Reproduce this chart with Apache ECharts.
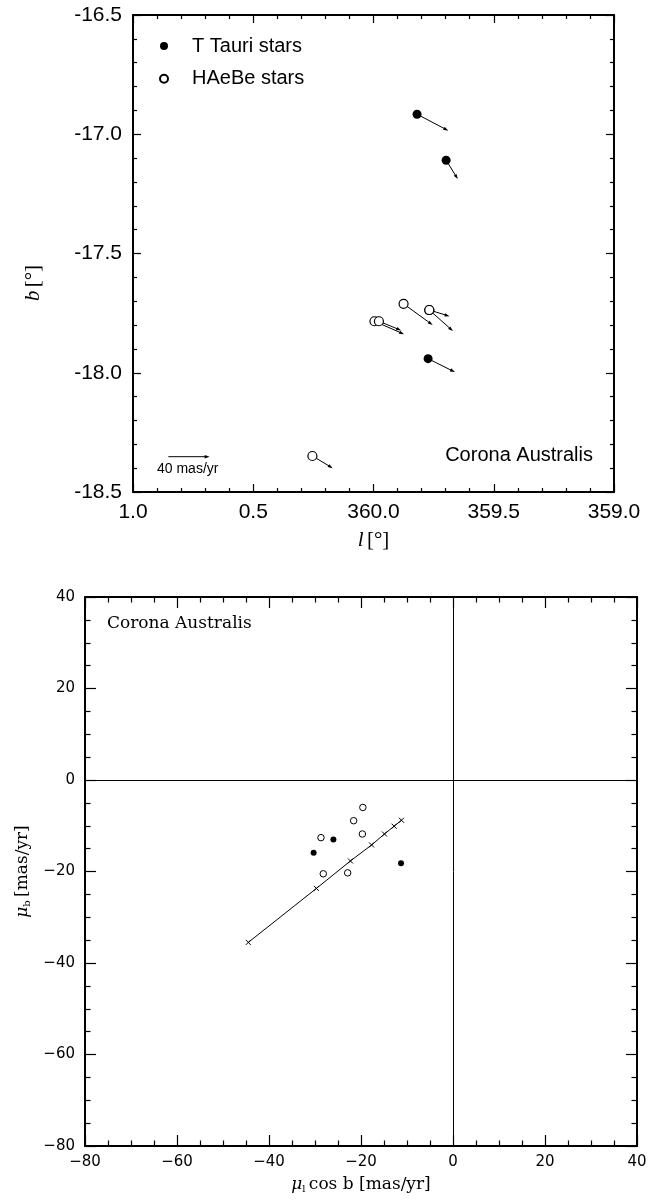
<!DOCTYPE html>
<html>
<head>
<meta charset="utf-8">
<script src="https://cdn.jsdelivr.net/npm/echarts@6/dist/echarts.min.js"></script>
<style>
html, body { margin: 0; padding: 0; background: #fff; }
#chart { width: 663px; height: 1201px; }
</style>
</head>
<body>
<div id="chart"></div>
<script>
// galactic positions; l kept as offset from 360 deg (359.8 -> -0.2)
var ttauriL = [-0.181, -0.302, -0.227];
var ttauriB = [-16.916, -17.109, -17.941];
var ttauriPmL = [-30.3, -11.3, -26.0];
var ttauriPmB = [-15.9, -18.2, -13.0];

var haebeL = [-0.125, -0.232, -0.232, -0.004, -0.0225, 0.254];
var haebeB = [-17.711, -17.737, -17.737, -17.784, -17.784, -18.349];
var haebePmL = [-28.2, -19.6, -22.9, -28.7, -21.6, -19.7];
var haebePmB = [-20.5, -6.0, -20.3, -12.6, -8.9, -11.8];

// crosses on the line in the proper motion diagram
var lineMuL = [-44.5, -29.7, -22.3, -17.7, -14.9, -12.8, -11.2];
var lineMuB = [-35.5, -23.7, -17.7, -14.2, -11.8, -10.1, -8.8];

// reference arrow (40 mas/yr)
var scaleArrow = [0.853, -18.352, -40, 0];

var lTickVals = [1, 0.5, 0, -0.5, -1];
var lTickLabels = ['1.0', '0.5', '360.0', '359.5', '359.0'];

var MAS_DEG = 0.1717 / 40;   // arrow length: deg of l per mas/yr

function zip(a, b) {
    return a.map(function (v, i) { return [v, b[i]]; });
}
function zip4(a, b, c, d) {
    return a.map(function (v, i) { return [v, b[i], c[i], d[i]]; });
}

function renderArrow(params, api) {
    var p = api.coord([api.value(0), api.value(1)]);
    var k = api.size([MAS_DEG, 0])[0];
    var dx = -api.value(2) * k, dy = -api.value(3) * k;
    var len = Math.sqrt(dx * dx + dy * dy);
    var ux = dx / len, uy = dy / len;
    var ex = p[0] + dx, ey = p[1] + dy;
    var h = 5, w = 1.7;
    return {
        type: 'group',
        children: [{
            type: 'line',
            shape: { x1: p[0], y1: p[1], x2: ex - ux * h * 0.6, y2: ey - uy * h * 0.6 },
            style: { stroke: '#000', lineWidth: 1 }
        }, {
            type: 'polygon',
            shape: { points: [[ex, ey], [ex - ux * h - uy * w, ey - uy * h + ux * w], [ex - ux * h + uy * w, ey - uy * h - ux * w]] },
            style: { fill: '#000' }
        }]
    };
}

function frame(o) {
    var ax = {
        type: 'value',
        gridIndex: o.grid,
        position: o.pos,
        min: o.min, max: o.max, interval: o.interval,
        inverse: !!o.inverse,
        axisLine: { show: true, onZero: false, lineStyle: { color: '#000', width: o.lw } },
        axisTick: { show: true, inside: true, length: o.tick, lineStyle: { color: '#000', width: 1.2 } },
        minorTick: { show: true, splitNumber: o.minor, length: o.tick / 2, lineStyle: { color: '#000', width: 1.2 } },
        splitLine: { show: false },
        axisLabel: { show: false }
    };
    if (o.label) {
        ax.axisLabel = {
            show: true, margin: o.margin, color: '#000',
            fontFamily: o.font, fontSize: o.fontSize,
            formatter: o.label
        };
    }
    return ax;
}

var topLabelX = function (v) {
    var i = lTickVals.indexOf(Math.round(v * 10) / 10);
    return i >= 0 ? lTickLabels[i] : '';
};
var topLabelY = function (v) { return v.toFixed(1); };
var lowLabel = function (v) { return String(v).replace('-', '\u2212'); };

var chart = echarts.init(document.getElementById('chart'));

var serifRich = {
    it: { fontFamily: 'Liberation Serif', fontStyle: 'italic', fontSize: 21, color: '#000' },
    n: { fontFamily: 'Liberation Serif', fontSize: 21, color: '#000' }
};
var muRich = {
    mu: { fontFamily: 'DejaVu Serif', fontStyle: 'italic', fontSize: 17, color: '#000' },
    sub: { fontFamily: 'DejaVu Serif', fontSize: 10, color: '#000', padding: [9, 0, 0, 0] },
    n: { fontFamily: 'DejaVu Serif', fontSize: 17, color: '#000' }
};

var xTop = frame({ grid: 0, pos: 'bottom', min: -1, max: 1, interval: 0.5, inverse: true, lw: 2, tick: 8, minor: 5,
    label: topLabelX, margin: 10, font: 'Liberation Sans', fontSize: 21 });
xTop.name = '{it|l} {n|[°]}';
xTop.nameLocation = 'middle';
xTop.nameGap = 38;
xTop.nameTextStyle = { rich: serifRich };

var xLow = frame({ grid: 1, pos: 'bottom', min: -80, max: 40, interval: 20, lw: 2, tick: 11, minor: 4,
    label: lowLabel, margin: 9, font: 'DejaVu Sans', fontSize: 15 });
xLow.name = '{mu|\u03bc}{sub|l} {n|cos b [mas/yr]}';
xLow.nameLocation = 'middle';
xLow.nameGap = 29;
xLow.nameTextStyle = { rich: muRich };

var yLow = frame({ grid: 1, pos: 'left', min: -80, max: 40, interval: 20, lw: 2, tick: 11, minor: 4,
    label: lowLabel, margin: 10, font: 'DejaVu Sans', fontSize: 15 });
yLow.name = '{mu|\u03bc}{sub|b} {n|[mas/yr]}';
yLow.nameLocation = 'middle';
yLow.nameGap = 42;
yLow.nameTextStyle = { rich: muRich };

var option = {
    animation: false,
    backgroundColor: '#fff',
    grid: [
        { left: 133, top: 15, width: 481, height: 477 },
        { left: 85, top: 597, width: 552, height: 549 }
    ],
    xAxis: [
        xTop,
        frame({ grid: 0, pos: 'top', min: -1, max: 1, interval: 0.5, inverse: true, lw: 2, tick: 8, minor: 5 }),
        xLow,
        frame({ grid: 1, pos: 'top', min: -80, max: 40, interval: 20, lw: 2, tick: 11, minor: 4 })
    ],
    yAxis: [
        frame({ grid: 0, pos: 'left', min: -18.5, max: -16.5, interval: 0.5, lw: 2, tick: 8, minor: 5,
            label: topLabelY, margin: 11, font: 'Liberation Sans', fontSize: 21 }),
        frame({ grid: 0, pos: 'right', min: -18.5, max: -16.5, interval: 0.5, lw: 2, tick: 8, minor: 5 }),
        yLow,
        frame({ grid: 1, pos: 'right', min: -80, max: 40, interval: 20, lw: 2, tick: 11, minor: 4 })
    ],
    legend: {
        orient: 'vertical', left: 159, top: 36, padding: 0,
        itemGap: 12.7, itemWidth: 8, itemHeight: 8,
        selectedMode: false,
        textStyle: { fontFamily: 'Liberation Sans', fontSize: 20, color: '#000', lineHeight: 20, padding: [0, 0, 0, 19] },
        data: [{ name: 'T Tauri stars', icon: 'circle' }, { name: 'HAeBe stars', icon: 'circle' }]
    },
    graphic: [{
        type: 'text', x: 33, y: 283, rotation: Math.PI / 2,
        style: { text: '{it|b} {n|[°]}', rich: serifRich, align: 'center', verticalAlign: 'middle' }
    }, {
        type: 'text', x: 593, y: 455,
        style: { text: 'Corona Australis', font: '20px "Liberation Sans"', fill: '#000', align: 'right', verticalAlign: 'middle' }
    }, {
        type: 'text', x: 157, y: 469,
        style: { text: '40 mas/yr', font: '14px "Liberation Sans"', fill: '#000', align: 'left', verticalAlign: 'middle' }
    }, {
        type: 'text', x: 107, y: 624,
        style: { text: 'Corona Australis', font: '17px "DejaVu Serif"', fill: '#000', align: 'left', verticalAlign: 'middle' }
    }],
    series: [
        // upper panel: motion vectors then stars on top
        {
            type: 'custom', xAxisIndex: 0, yAxisIndex: 0, z: 1,
            renderItem: renderArrow,
            data: zip4(ttauriL, ttauriB, ttauriPmL, ttauriPmB)
                .concat(zip4(haebeL, haebeB, haebePmL, haebePmB))
                .concat([scaleArrow])
        },
        {
            name: 'T Tauri stars', type: 'scatter', xAxisIndex: 0, yAxisIndex: 0, z: 3,
            symbol: 'circle', symbolSize: 9,
            itemStyle: { color: '#000', opacity: 1 },
            data: zip(ttauriL, ttauriB)
        },
        {
            name: 'HAeBe stars', type: 'scatter', xAxisIndex: 0, yAxisIndex: 0, z: 3,
            symbol: 'circle', symbolSize: 9,
            itemStyle: { color: '#fff', borderColor: '#000', borderWidth: 1.2, opacity: 1 },
            data: zip(haebeL, haebeB)
        },
        // lower panel
        {
            type: 'line', xAxisIndex: 2, yAxisIndex: 2, z: 2,
            symbol: 'path://M0,0L10,10M10,0L0,10', symbolSize: 5,
            itemStyle: { color: 'rgba(0,0,0,0)', borderColor: '#000', borderWidth: 1 },
            lineStyle: { color: '#000', width: 1 },
            data: zip(lineMuL, lineMuB),
            markLine: {
                silent: true, symbol: 'none', label: { show: false },
                lineStyle: { color: '#000', width: 1, type: 'solid' },
                data: [{ xAxis: 0 }, { yAxis: 0 }]
            }
        },
        {
            name: 'T Tauri pm', type: 'scatter', xAxisIndex: 2, yAxisIndex: 2, z: 3,
            symbol: 'circle', symbolSize: 6,
            itemStyle: { color: '#000', opacity: 1 },
            data: zip(ttauriPmL, ttauriPmB)
        },
        {
            name: 'HAeBe pm', type: 'scatter', xAxisIndex: 2, yAxisIndex: 2, z: 3,
            symbol: 'circle', symbolSize: 6.5,
            itemStyle: { color: '#fff', borderColor: '#000', borderWidth: 1, opacity: 1 },
            data: zip(haebePmL, haebePmB)
        }
    ]
};

chart.setOption(option);
</script>
</body>
</html>
